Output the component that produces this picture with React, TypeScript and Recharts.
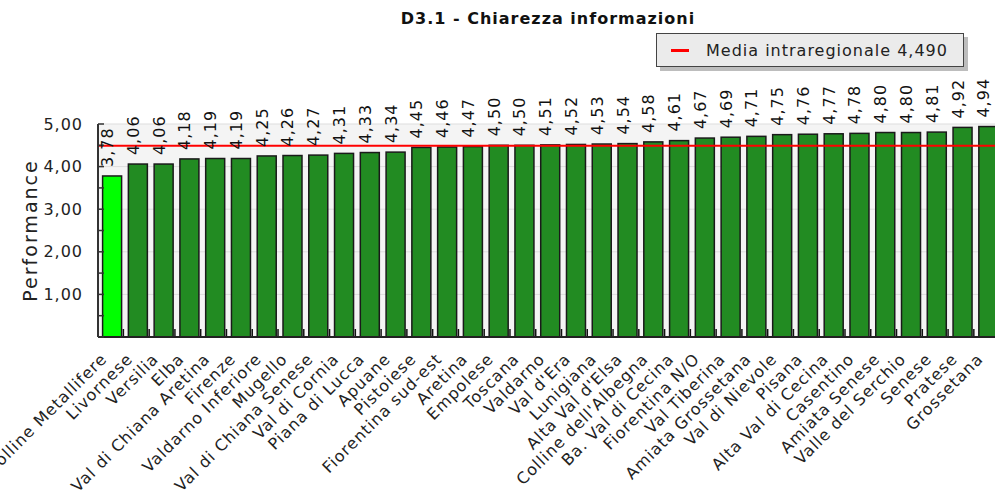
import { BarChart, Bar, XAxis, YAxis, CartesianGrid, ReferenceLine, LabelList } from "recharts";

const categories = [
  "Colline Metallifere",
  "Livornese",
  "Versilia",
  "Elba",
  "Val di Chiana Aretina",
  "Firenze",
  "Valdarno Inferiore",
  "Mugello",
  "Val di Chiana Senese",
  "Val di Cornia",
  "Piana di Lucca",
  "Apuane",
  "Pistoiese",
  "Fiorentina sud-est",
  "Aretina",
  "Empolese",
  "Toscana",
  "Valdarno",
  "Val d'Era",
  "Lunigiana",
  "Alta Val d'Elsa",
  "Colline dell'Albegna",
  "Ba. Val di Cecina",
  "Fiorentina N/O",
  "Val Tiberina",
  "Amiata Grossetana",
  "Val di Nievole",
  "Pisana",
  "Alta Val di Cecina",
  "Casentino",
  "Amiata Senese",
  "Valle del Serchio",
  "Senese",
  "Pratese",
  "Grossetana",
];

const performance = [
  3.78, 4.06, 4.06, 4.18, 4.19, 4.19, 4.25, 4.26, 4.27, 4.31, 4.33, 4.34,
  4.45, 4.46, 4.47, 4.5, 4.5, 4.51, 4.52, 4.53, 4.54, 4.58, 4.61, 4.67, 4.69,
  4.71, 4.75, 4.76, 4.77, 4.78, 4.8, 4.8, 4.81, 4.92, 4.94,
];

const highlighted = "Colline Metallifere";
const mediaIntraregionale = 4.49;
const yTicks = [0, 0.5, 1, 1.5, 2, 2.5, 3, 3.5, 4, 4.5, 5];
const gridValues = [1, 2, 3, 4, 5];

const data = categories.map((name, i) => ({ name, value: performance[i] }));

const CHART_W = 1010;
const CHART_H = 502;
const Y_AXIS_W = 60;
const X_AXIS_H = 150;
const margin = { top: 124, right: 10, bottom: 15, left: 38 };
const plotW = CHART_W - margin.left - margin.right - Y_AXIS_W;
const band = plotW / categories.length;
const BAR_W = 19;
const SHIFT = 1.6;

const font = "'DejaVu Sans', Verdana, sans-serif";
const comma = (v: number, d = 2) => v.toFixed(d).replace(".", ",");

function BarShape(props: any) {
  const { x, y, width, height, payload } = props;
  const bandEnd = x - (band - width) / 2 + band;
  const bottom = y + height;
  return (
    <g>
      <rect
        x={x + SHIFT}
        y={y}
        width={width}
        height={height}
        fill={payload.name === highlighted ? "#00ff00" : "#228b22"}
        stroke="#1a1a1a"
        strokeWidth={1.5}
      />
      <line x1={bandEnd} x2={bandEnd} y1={bottom} y2={bottom - 8} stroke="#111" strokeWidth={1.5} />
    </g>
  );
}

function ValueLabel(props: any) {
  const { x, y, width, value } = props;
  const cx = x + width / 2 + SHIFT + 1;
  const ty = y - 9;
  return (
    <text
      x={cx}
      y={ty}
      transform={`rotate(-90, ${cx}, ${ty})`}
      textAnchor="start"
      fontSize={16}
      letterSpacing={1}
      fontFamily={font}
      fill="#111"
    >
      {comma(value)}
    </text>
  );
}

function YTick(props: any) {
  const { x, y, payload } = props;
  const v = payload.value;
  const major = Number.isInteger(v);
  return (
    <g>
      {major && v > 0 && (
        <text
          x={x}
          y={y}
          textAnchor="end"
          dominantBaseline="central"
          fontSize={16}
          letterSpacing={1}
          fontFamily={font}
          fill="#222"
        >
          {comma(v)}
        </text>
      )}
      <line x1={x + 15} x2={x + 21} y1={y} y2={y} stroke="#333" strokeWidth={1.5} />
    </g>
  );
}

function XTick(props: any) {
  const { x, y, payload } = props;
  const tx = x - 3;
  return (
    <text
      x={tx}
      y={y}
      transform={`rotate(-45, ${tx}, ${y})`}
      textAnchor="end"
      fontSize={16}
      letterSpacing={1}
      fontFamily={font}
      fill="#222"
    >
      {payload.value}
    </text>
  );
}

function YLabel(props: any) {
  const { viewBox } = props;
  const lx = viewBox.x - 8;
  const ly = viewBox.y + viewBox.height / 2;
  return (
    <text
      x={lx}
      y={ly}
      transform={`rotate(-90, ${lx}, ${ly})`}
      textAnchor="middle"
      dominantBaseline="central"
      fontSize={19}
      letterSpacing={2}
      fontFamily={font}
      fill="#222"
    >
      Performance
    </text>
  );
}

export default function App() {
  return (
    <div
      style={{
        position: "absolute",
        left: 0,
        top: 0,
        width: 995,
        height: 502,
        overflow: "hidden",
        background: "#fff",
        fontFamily: font,
      }}
    >
      <div
        style={{
          position: "absolute",
          left: 548,
          top: 9,
          transform: "translateX(-50%)",
          fontWeight: "bold",
          fontSize: 16,
          letterSpacing: 1,
          whiteSpace: "nowrap",
          color: "#111",
        }}
      >
        D3.1 - Chiarezza informazioni
      </div>

      <BarChart width={CHART_W} height={CHART_H} data={data} margin={margin}>
        <CartesianGrid
          vertical={false}
          horizontalValues={gridValues}
          stroke="#dddddd"
          fill="#f4f4f4"
        />
        <XAxis
          dataKey="name"
          interval={0}
          height={X_AXIS_H}
          tickLine={false}
          tickSize={0}
          tickMargin={23}
          axisLine={{ stroke: "#222", strokeWidth: 2 }}
          tick={<XTick />}
        />
        <YAxis
          width={Y_AXIS_W}
          domain={[0, 5]}
          ticks={yTicks}
          interval={0}
          tickLine={false}
          tickSize={0}
          tickMargin={15}
          axisLine={{ stroke: "#333", strokeWidth: 2 }}
          tick={<YTick />}
          label={{ content: <YLabel /> }}
        />
        <Bar dataKey="value" barSize={BAR_W} shape={<BarShape />} isAnimationActive={false}>
          <LabelList dataKey="value" content={<ValueLabel />} />
        </Bar>
        <ReferenceLine y={mediaIntraregionale} stroke="#ff0000" strokeWidth={2} />
      </BarChart>

      <div
        style={{
          position: "absolute",
          left: 656,
          top: 33,
          width: 308,
          height: 34,
          boxSizing: "border-box",
          border: "1px solid #444",
          background: "#ebebeb",
          boxShadow: "4px 4px 0 #bdbdbd",
          display: "flex",
          alignItems: "center",
        }}
      >
        <div style={{ marginLeft: 14, width: 18, height: 3, background: "#ff0000" }} />
        <span style={{ marginLeft: 17, fontSize: 16, letterSpacing: 1, color: "#222", whiteSpace: "nowrap" }}>
          Media intraregionale {comma(mediaIntraregionale, 3)}
        </span>
      </div>
    </div>
  );
}
